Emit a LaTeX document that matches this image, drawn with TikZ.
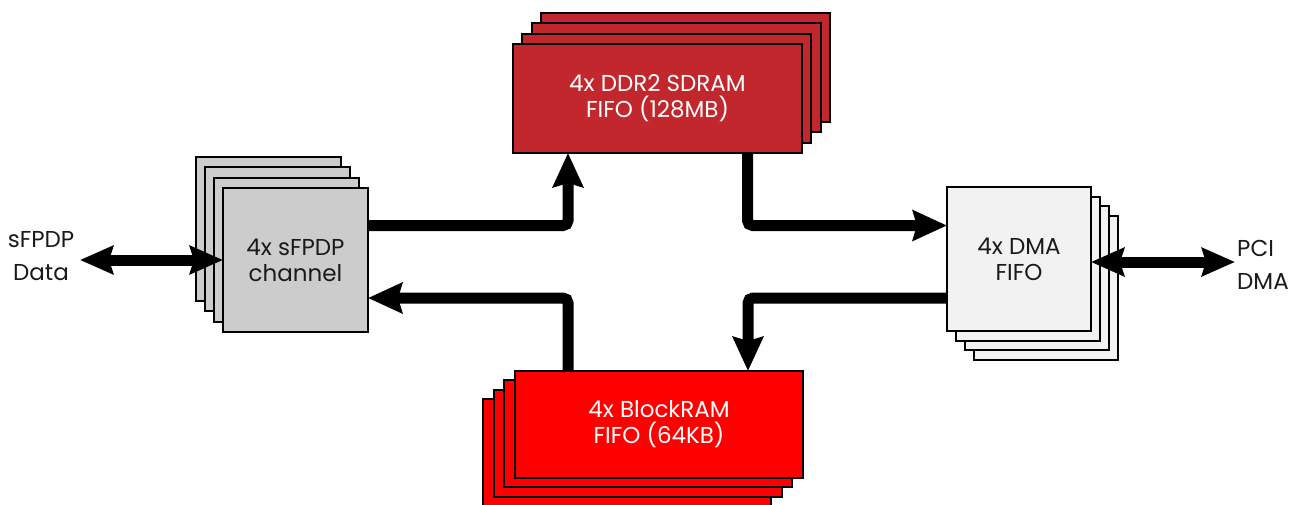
\documentclass[tikz,border=0pt]{standalone}
\usepackage{fontspec}
\setmainfont{Poppins}
\usetikzlibrary{arrows.meta,calc}
\definecolor{ddrred}{HTML}{C1272D}
\definecolor{bramred}{HTML}{FF0000}
\definecolor{sgray}{HTML}{CCCCCC}
\definecolor{dmagray}{HTML}{F2F2F2}
\definecolor{txtdark}{HTML}{1A1A1A}
\tikzset{
  stackbox/.style={draw=black, line width=2pt, rectangle, inner sep=0pt, outer sep=0pt,
    align=center, font=\fontsize{23}{26}\selectfont},
  ddrbox/.style={stackbox, fill=ddrred, text=white, minimum width=289pt, minimum height=109pt},
  brambox/.style={stackbox, fill=bramred, text=white, minimum width=288pt, minimum height=107pt},
  sbox/.style={stackbox, fill=sgray, text=txtdark, minimum width=145pt, minimum height=144pt},
  dmabox/.style={stackbox, fill=dmagray, text=txtdark, minimum width=144pt, minimum height=144pt},
  lbl/.style={align=left, inner sep=0pt, text=txtdark, font=\fontsize{23}{33}\selectfont},
  arr/.style={line width=11pt, rounded corners=5pt, -{Stealth[length=34pt, width=30pt, inset=4pt]}},
  darr/.style={line width=11pt, {Stealth[length=33pt, width=28pt, inset=4pt]}-{Stealth[length=33pt, width=28pt, inset=4pt]}}
}
\begin{document}
\begin{tikzpicture}[x=1pt,y=-1pt]
\clip (0,0) rectangle (1293,504);
\fill[white] (0,0) rectangle (1293,504);
% DDR2 stack
\foreach \k in {3,2,1} {\node[ddrbox] (ddr\k) at (657.5+9.3*\k, 98.5-10.3*\k) {};}
\node[ddrbox] (ddr) at (657.5,98.5) {4x DDR2 SDRAM\\FIFO (128MB)};
% sFPDP stack
\foreach \k in {3,2,1} {\node[sbox] (sf\k) at (295.5-9*\k, 260-10.3*\k) {};}
\node[sbox] (sfpdp) at (295.5,260) {4x sFPDP\\channel};
% DMA stack
\foreach \k in {3,2,1} {\node[dmabox] (dma\k) at (1019+9*\k, 259+9.7*\k) {};}
\node[dmabox] (dma) at (1019,259) {4x DMA\\FIFO};
% BlockRAM stack
\foreach \k in {3,2,1} {\node[brambox] (bram\k) at (659-10.7*\k, 424.5+9.3*\k) {};}
\node[brambox] (bram) at (659,424.5) {4x BlockRAM\\FIFO (64KB)};
% labels
\node[lbl, align=center] (sdata) at (41,256) {sFPDP\\Data};
\node[lbl, anchor=west] (pci) at (1237,265) {PCI\\DMA};
% connector helpers
\coordinate (c1) at (568,225.5);
\coordinate (c2) at (568,298);
\coordinate (c3) at (747.5,225.5);
\coordinate (c4) at (748,298);
\coordinate (sl) at (80,260);
\coordinate (pr) at (1235,262);
\draw[arr] (c1 -| sfpdp.east) -| (c1 |- ddr.south);
\draw[arr] (c2 |- bram.north) |- (c2 -| sfpdp.east);
\draw[arr] (c3 |- ddr.south) |- (c3 -| dma.west);
\draw[arr] (c4 -| dma.west) -| (c4 |- bram.north);
\draw[darr] (sl) -- (sfpdp.west);
\draw[darr] (dma.east |- pr) -- (pr);
\end{tikzpicture}
\end{document}
